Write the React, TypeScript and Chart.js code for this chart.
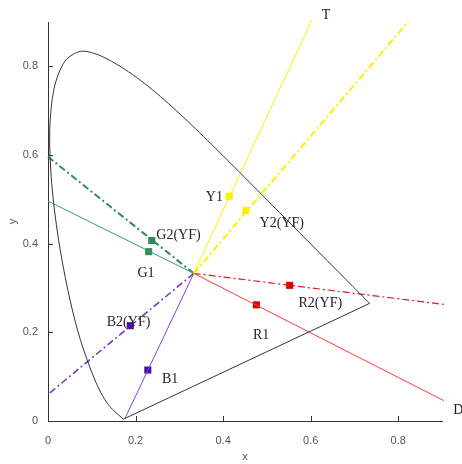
import React, { useEffect, useRef } from "react";
import { Chart, registerables } from "chart.js";

Chart.register(...registerables);

// CIE 1931 spectral locus (380–700 nm)
const locusX = [0.1741, 0.1733, 0.1731, 0.1726, 0.1721, 0.1714, 0.1703, 0.1689, 0.1669, 0.1644, 0.1611, 0.1566, 0.151, 0.144, 0.1355, 0.1241, 0.1096, 0.0913, 0.0687, 0.0454, 0.0235, 0.0082, 0.0039, 0.0139, 0.0389, 0.0743, 0.1142, 0.1547, 0.1929, 0.2296, 0.2658, 0.3016, 0.3373, 0.3731, 0.4087, 0.4441, 0.4788, 0.5125, 0.5448, 0.5752, 0.6029, 0.627, 0.6482, 0.6658, 0.6801, 0.6915, 0.7006, 0.7079, 0.714, 0.719, 0.723, 0.726, 0.73, 0.7347];
const locusY = [0.005, 0.0048, 0.0048, 0.0048, 0.0048, 0.0051, 0.0058, 0.0069, 0.0086, 0.0109, 0.0138, 0.0177, 0.0227, 0.0297, 0.0399, 0.0578, 0.0868, 0.1327, 0.2007, 0.295, 0.4127, 0.5384, 0.6548, 0.7502, 0.812, 0.8338, 0.8262, 0.8059, 0.7816, 0.7543, 0.7243, 0.6923, 0.6589, 0.6245, 0.5896, 0.5547, 0.5202, 0.4866, 0.4544, 0.4242, 0.3965, 0.3725, 0.3514, 0.334, 0.3197, 0.3083, 0.2993, 0.292, 0.2859, 0.2809, 0.277, 0.274, 0.27, 0.2653];

const whiteX = 0.333;
const whiteY = 0.333;

const rayNames = ["Y1", "Y2(YF)", "G1", "G2(YF)", "R1", "R2(YF)", "B1", "B2(YF)"];
const rayEndX = [0.603, 0.823, 0.0, 0.0, 0.904, 0.904, 0.175, 0.0];
const rayEndY = [0.905, 0.901, 0.496, 0.596, 0.046, 0.263, 0.004, 0.06];
const markerX = [0.414, 0.452, 0.23, 0.237, 0.476, 0.552, 0.228, 0.188];
const markerY = [0.507, 0.475, 0.382, 0.407, 0.262, 0.306, 0.115, 0.215];

const labelTexts = ["T", "Y1", "Y2(YF)", "G2(YF)", "G1", "R2(YF)", "R1", "D", "B2(YF)", "B1"];
const labelX = [0.635, 0.38, 0.534, 0.298, 0.224, 0.622, 0.487, 0.937, 0.184, 0.279];
const labelY = [0.916, 0.504, 0.445, 0.419, 0.334, 0.266, 0.194, 0.025, 0.222, 0.095];

const tickValues = [0, 0.2, 0.4, 0.6, 0.8];

const rayColors = ["#ffee00", "#ffee00", "#33a06c", "#2e8b57", "#ff3b3b", "#e01818", "#7a44e0", "#6a34d0"];
const rayDash = [[], [7, 3, 2, 3], [], [7, 3, 2, 3], [], [7, 3, 2, 3], [], [7, 3, 2, 3]];
const rayWidth = [1, 2, 1, 2, 1, 1.2, 1, 1.5];
const markerColors = ["#ffee00", "#ffee00", "#2e8b57", "#2e8b57", "#dd0000", "#dd0000", "#4a0aa8", "#4a0aa8"];

const innerTicks = {
  id: "innerTicks",
  afterDraw(chart: any) {
    const { ctx, chartArea, scales } = chart;
    ctx.save();
    ctx.strokeStyle = "#333";
    ctx.lineWidth = 1;
    ctx.beginPath();
    tickValues.forEach((v) => {
      const px = Math.round(scales.x.getPixelForValue(v)) + 0.5;
      ctx.moveTo(px, chartArea.bottom);
      ctx.lineTo(px, chartArea.bottom - 5);
      const py = Math.round(scales.y.getPixelForValue(v)) + 0.5;
      ctx.moveTo(chartArea.left, py);
      ctx.lineTo(chartArea.left + 5, py);
    });
    ctx.stroke();
    ctx.restore();
  },
};

const textLabels = {
  id: "textLabels",
  afterDatasetsDraw(chart: any) {
    const { ctx, scales } = chart;
    ctx.save();
    ctx.font = "14px 'Liberation Serif', serif";
    ctx.fillStyle = "#222";
    ctx.textAlign = "center";
    ctx.textBaseline = "middle";
    labelTexts.forEach((t, i) => {
      ctx.fillText(t, scales.x.getPixelForValue(labelX[i]), scales.y.getPixelForValue(labelY[i]));
    });
    ctx.restore();
  },
};

export default function App() {
  const ref = useRef<HTMLCanvasElement>(null);
  useEffect(() => {
    if (!ref.current) return;
    const datasets: any[] = [];
    datasets.push({
      data: locusX.map((x, i) => ({ x, y: locusY[i] })),
      showLine: true,
      borderColor: "#333",
      borderWidth: 1,
      pointRadius: 0,
      tension: 0.3,
      clip: false,
    });
    datasets.push({
      data: [
        { x: locusX[0], y: locusY[0] },
        { x: locusX[locusX.length - 1], y: locusY[locusY.length - 1] },
      ],
      showLine: true,
      borderColor: "#333",
      borderWidth: 1,
      pointRadius: 0,
      clip: false,
    });
    rayNames.forEach((name, i) => {
      datasets.push({
        label: name,
        data: [
          { x: whiteX, y: whiteY },
          { x: rayEndX[i], y: rayEndY[i] },
        ],
        showLine: true,
        borderColor: rayColors[i],
        borderWidth: rayWidth[i],
        borderDash: rayDash[i],
        pointRadius: 0,
        clip: false,
      });
    });
    rayNames.forEach((name, i) => {
      datasets.push({
        label: name + " point",
        data: [{ x: markerX[i], y: markerY[i] }],
        showLine: false,
        pointStyle: "rect",
        pointRadius: 5,
        backgroundColor: markerColors[i],
        borderColor: markerColors[i],
        borderWidth: 0,
        clip: false,
      });
    });

    const tickFont = { family: "'Liberation Sans', sans-serif", size: 11 };
    const chart = new Chart(ref.current, {
      type: "scatter",
      data: { datasets },
      options: {
        animation: false,
        responsive: false,
        layout: { padding: { left: 0, top: 22, right: 20, bottom: 0 } },
        plugins: { legend: { display: false }, tooltip: { enabled: false } },
        scales: {
          x: {
            type: "linear",
            min: 0,
            max: 0.9,
            afterFit: (s: any) => {
              s.height = 43;
            },
            grid: { display: false, drawTicks: false },
            border: { display: true, color: "#333", width: 1 },
            ticks: {
              stepSize: 0.2,
              includeBounds: false,
              padding: 13,
              color: "#555",
              font: tickFont,
              callback: (v: any) => (Number(v) > 0.85 ? "" : String(Math.round(Number(v) * 10) / 10)),
            },
            title: { display: true, text: "x", color: "#555", font: tickFont, padding: { top: 0, bottom: 0 } },
          },
          y: {
            type: "linear",
            min: 0,
            max: 0.9,
            afterFit: (s: any) => {
              s.width = 48;
            },
            grid: { display: false, drawTicks: false },
            border: { display: true, color: "#333", width: 1 },
            ticks: {
              stepSize: 0.2,
              includeBounds: false,
              padding: 10,
              color: "#555",
              font: tickFont,
              callback: (v: any) => (Number(v) > 0.85 ? "" : String(Math.round(Number(v) * 10) / 10)),
            },
            title: { display: true, text: "y", color: "#555", font: tickFont, padding: { top: 6, bottom: 0 } },
          },
        },
      },
      plugins: [innerTicks, textLabels],
    });
    return () => chart.destroy();
  }, []);

  return (
    <div style={{ position: "fixed", left: 0, top: 0, width: 462, height: 464, background: "#fff" }}>
      <canvas ref={ref} width={462} height={464} />
    </div>
  );
}
